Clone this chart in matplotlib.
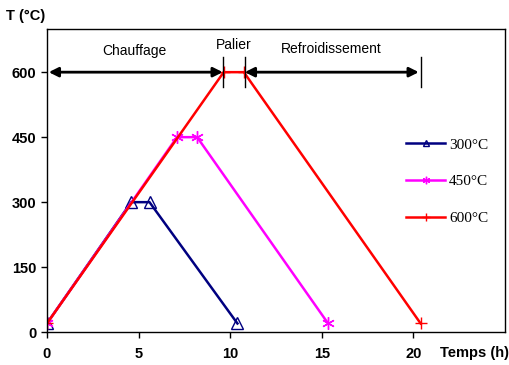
import matplotlib.pyplot as plt

plt.rcParams['font.family'] = ['Liberation Sans', 'DejaVu Sans']

# time (h) and temperature (°C) for each cycle
t300 = [0, 4.6, 5.6, 10.4]
T300 = [20, 300, 300, 20]
t450 = [0, 7.1, 8.2, 15.35]
T450 = [20, 450, 450, 20]
t600 = [0, 9.65, 10.75, 20.4]
T600 = [20, 600, 600, 20]

fig = plt.figure(figsize=(5.1, 3.65), dpi=100)
ax = fig.add_axes([0.092, 0.09, 0.898, 0.831])

ax.plot(t300, T300, color='#000080', lw=1.8, marker='^', ms=8, mfc='none', mew=1.0, label='300°C')
ax.plot(t450, T450, color='#ff00ff', lw=1.8, marker=(6, 2, 0), ms=9, mew=1.0, label='450°C')
ax.plot(t600, T600, color='#ff0000', lw=1.8, marker='+', ms=9, mew=1.0, label='600°C')

# phase arrows
arr = dict(arrowstyle='<|-|>', color='black', lw=2, mutation_scale=14, shrinkA=0, shrinkB=0)
ax.annotate('', xy=(0.1, 600), xytext=(9.6, 600), arrowprops=arr)
ax.annotate('', xy=(10.8, 600), xytext=(20.3, 600), arrowprops=arr)
for xv in [9.6, 10.8, 20.4]:
    ax.plot([xv, xv], [565, 635], color='black', lw=1)
ax.text(4.8, 632, 'Chauffage', ha='center', va='bottom', fontsize=10)
ax.text(10.2, 647, 'Palier', ha='center', va='bottom', fontsize=10)
ax.text(15.5, 637, 'Refroidissement', ha='center', va='bottom', fontsize=10)

ax.set_xlim(0, 25)
ax.set_ylim(0, 700)
ax.set_xticks([0, 5, 10, 15, 20])
ax.set_yticks([0, 150, 300, 450, 600])
ax.tick_params(direction='out', length=4, labelsize=10.5, width=1)
for lbl in ax.get_xticklabels() + ax.get_yticklabels():
    lbl.set_fontweight('bold')
ax.tick_params(axis='x', pad=7)
for s in ax.spines.values():
    s.set_linewidth(1)

fig.text(0.012, 0.955, 'T (°C)', fontsize=10.5, fontweight='bold', va='center')
fig.text(0.998, 0.033, 'Temps (h)', fontsize=10.5, fontweight='bold', ha='right', va='center')

ax.legend(loc='upper left', bbox_to_anchor=(0.755, 0.685), frameon=False,
          prop={'family': 'Liberation Serif', 'size': 11},
          handlelength=2.5, labelspacing=1.5, handletextpad=0.3, markerscale=0.6)

fig.savefig('out.png')
